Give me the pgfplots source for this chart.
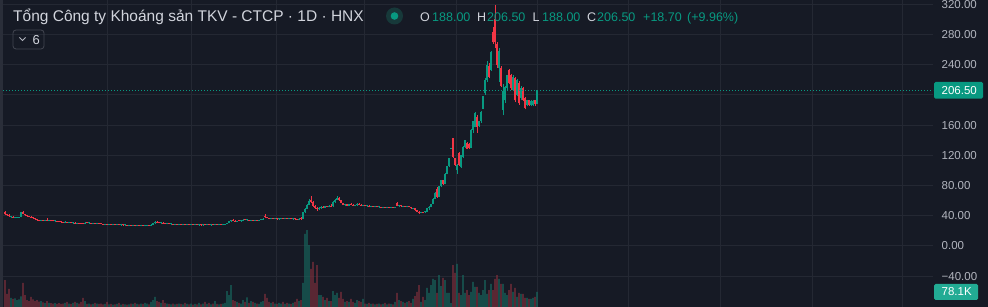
\documentclass[border=0pt]{standalone}
\usepackage{pgfplots}
\pgfplotsset{compat=1.18}
\usepackage{pgfplotstable}
\usepackage{fontspec}
\setmainfont{Liberation Sans}
\definecolor{bg}{HTML}{161A25}
\definecolor{side}{HTML}{2A2E39}
\definecolor{gridc}{HTML}{242833}
\definecolor{tickc}{HTML}{B2B5BE}
\definecolor{titlec}{HTML}{D1D4DC}
\definecolor{upc}{HTML}{089981}
\definecolor{dnc}{HTML}{F23645}
\definecolor{volup}{HTML}{17665D}
\definecolor{voldn}{HTML}{7E2F3B}
\definecolor{badgeb}{HTML}{22AB94}
\definecolor{ring}{HTML}{17393A}
\definecolor{boxc}{HTML}{434651}

\pgfplotstableread{
x o h l c v
5 44.5 46.0 41.0 42.0 140
7 42.0 43.0 40.0 40.5 68
9 41.0 42.0 39.0 39.5 94
11 38.5 40.0 37.5 39.5 47
13 39.0 39.5 37.0 37.5 42
15 37.0 38.5 36.5 38.0 45
17 37.5 38.5 37.0 38.2 36
19 38.0 39.0 37.5 38.5 40
21 38.5 45.0 38.0 44.5 55
23 45.0 46.0 42.0 42.5 125
25 42.5 43.0 40.0 40.5 62
27 40.5 41.0 39.0 39.2 36
29 39.5 40.0 38.5 39.0 30
31 39.0 39.5 37.5 37.8 52
33 37.8 38.2 36.0 36.5 40
35 36.5 37.0 35.0 35.5 30
37 35.5 36.0 33.5 34.0 36
39 34.0 34.5 33.0 33.5 28
41 33.5 34.8 33.0 34.5 30
43 34.5 35.0 33.2 33.5 24
45 33.5 34.0 32.8 33.8 20
47 34.0 37.0 33.0 33.2 30
49 33.2 34.0 32.5 33.5 22
51 33.5 34.0 32.8 33.0 20
53 33.0 33.8 32.5 32.8 18
55 32.8 33.5 32.0 33.2 20
57 33.2 33.5 32.2 32.5 16
59 32.5 33.0 31.8 32.0 20
61 32.0 32.5 31.0 31.5 16
63 31.5 32.0 30.8 31.2 18
65 31.2 32.5 30.8 31.8 21
67 31.8 32.0 30.5 30.8 26
69 30.8 31.5 30.2 31.2 18
71 31.2 31.5 30.5 30.6 16
73 30.6 31.0 30.0 30.8 21
75 30.8 31.2 29.5 29.8 26
77 29.8 31.0 29.5 30.8 21
79 30.8 31.0 29.8 30.0 18
81 30.0 30.5 29.2 29.5 26
83 30.5 30.8 29.0 29.2 47
85 29.2 31.5 29.0 31.0 31
87 31.0 31.2 30.0 30.2 16
89 30.2 30.8 29.8 30.5 18
91 30.5 30.8 29.8 30.0 14
93 30.0 30.5 29.5 30.2 16
95 30.2 30.5 29.5 29.6 21
97 29.6 30.0 29.0 29.8 18
99 29.8 30.0 29.0 29.2 16
101 29.2 29.8 28.5 29.0 18
103 29.0 29.5 28.2 28.5 14
105 28.5 29.2 28.0 29.0 16
107 29.0 29.2 28.2 28.4 26
109 28.4 29.0 28.0 28.8 14
111 28.8 29.0 28.0 28.2 16
113 28.2 28.8 27.8 28.5 12
115 28.5 28.8 27.8 28.0 14
117 28.0 28.5 27.5 28.2 16
119 28.2 28.5 27.6 27.8 21
121 27.8 28.2 27.2 28.0 12
123 28.0 28.3 27.3 27.5 16
125 27.5 28.0 27.0 27.8 14
127 27.8 28.0 27.2 27.4 12
129 27.4 27.8 26.8 27.6 14
131 27.6 27.8 27.0 27.2 18
133 27.2 27.6 26.5 27.4 16
135 27.4 27.6 26.0 26.8 21
137 26.8 27.5 26.5 27.2 16
139 27.2 27.4 26.5 26.8 14
141 26.8 27.3 26.2 27.0 18
143 27.0 27.3 26.3 26.6 16
145 26.6 27.2 26.0 27.0 21
147 27.0 27.5 26.5 27.3 18
149 27.3 27.6 26.8 27.0 14
151 27.0 28.5 26.8 28.2 26
153 28.2 30.0 28.0 29.8 36
155 29.8 32.5 29.5 32.0 52
157 32.0 32.5 30.5 31.0 31
159 31.0 31.5 30.0 30.2 26
161 30.2 31.0 29.5 30.8 21
163 30.8 31.2 29.5 29.8 36
165 29.8 30.2 29.0 29.2 21
167 29.2 29.8 28.5 29.5 18
169 29.5 29.8 28.5 28.8 16
171 28.8 29.5 28.5 29.2 14
173 29.2 29.5 28.5 28.7 18
175 28.7 29.2 28.2 29.0 14
177 29.0 29.3 28.3 28.5 16
179 28.5 29.0 28.0 28.8 18
181 28.8 29.0 28.0 28.2 16
183 28.2 28.8 27.8 28.6 14
185 28.6 28.8 27.8 28.0 21
187 28.0 28.5 27.5 28.3 16
189 28.3 28.6 27.6 27.8 14
191 27.8 28.5 27.5 28.4 18
193 28.4 28.6 27.8 28.0 12
195 28.0 28.5 27.6 28.2 16
197 28.2 28.5 27.5 27.8 14
199 27.8 28.2 27.2 28.0 21
201 28.0 28.4 27.5 27.8 14
203 27.8 28.4 27.4 28.2 18
205 28.2 29.5 28.0 28.0 26
207 28.0 28.5 27.5 28.3 16
209 28.3 28.6 27.6 27.9 21
211 27.9 28.4 27.5 28.2 14
213 28.2 28.5 27.6 27.8 18
215 27.8 28.8 27.5 28.5 31
217 28.5 28.8 27.8 28.0 16
219 28.0 28.5 27.6 28.3 14
221 28.3 28.6 27.5 27.8 16
223 27.8 28.5 27.5 28.2 18
225 28.2 29.0 27.8 28.8 21
227 28.8 31.0 28.5 30.5 83
229 30.5 33.0 30.0 32.5 62
231 32.5 35.0 32.0 34.5 114
233 34.5 35.5 33.0 33.5 36
235 33.5 34.0 32.0 32.5 31
237 32.5 33.5 32.0 33.2 26
239 33.2 34.0 32.5 33.0 21
241 33.0 33.8 32.2 33.5 18
243 33.5 35.5 33.0 35.0 36
245 35.0 35.5 34.0 34.2 26
247 34.2 34.8 33.5 34.5 50
249 34.5 35.0 33.5 33.8 21
251 33.8 34.5 33.2 34.2 31
253 34.2 34.5 33.0 33.5 26
255 33.5 34.2 33.0 34.0 21
257 34.0 34.5 33.2 33.6 18
259 33.6 34.3 33.0 34.1 16
261 34.1 36.0 33.8 35.5 26
263 35.0 36.5 34.5 36.2 31
265 40.0 43.0 37.5 38.0 68
267 38.0 38.5 36.5 37.0 47
269 37.0 37.5 35.8 36.2 26
271 36.2 36.8 35.5 36.5 21
273 36.5 37.0 35.5 35.8 26
275 35.8 36.5 35.2 36.2 18
277 36.2 36.5 35.0 35.5 16
279 35.5 36.0 34.8 35.8 21
281 35.8 37.0 35.5 36.8 18
283 36.8 37.0 35.8 36.0 26
285 36.0 36.8 35.5 36.5 16
287 36.5 36.8 35.6 35.8 21
289 35.8 36.5 35.3 36.2 18
291 36.2 36.5 35.5 35.7 16
293 35.7 36.2 35.0 36.0 21
295 36.0 36.3 35.2 35.5 26
297 35.5 36.0 34.5 35.0 42
299 35.0 36.5 34.5 36.3 31
301 36.3 38.0 35.0 35.5 36
303 36.0 45.0 35.5 44.5 125
305 44.5 50.0 44.0 49.5 380
307 49.5 55.0 49.0 54.5 400
309 54.5 62.0 54.0 60.0 322
311 61.0 66.0 57.0 58.0 198
313 58.0 59.0 52.0 53.0 234
315 53.0 54.0 49.0 50.0 125
317 50.0 51.5 47.0 48.5 218
319 48.5 51.0 47.5 50.5 62
321 50.5 52.5 49.5 52.0 62
323 52.0 53.0 49.8 50.5 52
325 50.5 53.5 50.0 53.0 36
327 53.0 53.5 51.0 51.5 47
329 51.5 54.0 51.0 53.5 31
331 53.5 55.0 52.0 52.5 31
333 52.5 59.0 52.0 58.5 83
335 58.5 62.0 57.5 61.5 62
337 61.5 66.0 61.0 64.0 73
339 64.0 65.0 60.0 60.5 47
341 60.5 61.0 56.5 57.0 78
343 57.0 57.5 54.0 54.5 42
345 54.5 56.0 53.5 55.5 26
347 55.5 56.0 53.0 53.5 31
349 53.5 55.5 53.0 55.0 26
351 55.0 56.5 54.2 54.5 42
353 54.5 55.0 52.8 53.0 26
355 53.0 54.5 52.5 54.0 21
357 54.0 56.5 53.5 56.0 36
359 56.0 56.5 54.0 54.5 31
361 54.5 55.0 53.0 53.5 26
363 53.5 54.2 52.5 53.8 42
365 53.8 54.0 52.5 53.0 18
367 53.0 53.8 52.2 53.5 16
369 53.5 53.8 52.0 52.3 21
371 52.3 53.0 51.5 52.8 16
373 52.8 53.2 51.5 51.8 18
375 51.8 52.5 51.0 52.2 14
377 52.2 52.5 51.0 51.3 16
379 51.3 52.0 50.5 51.8 18
381 51.8 52.2 50.8 51.2 14
383 51.2 51.8 50.5 51.5 16
385 51.5 51.8 50.5 50.8 21
387 50.8 51.5 50.2 51.2 14
389 51.2 51.5 50.3 50.6 18
391 50.6 51.2 50.0 51.0 16
393 51.0 51.3 50.0 50.4 14
395 50.4 52.0 50.0 51.8 26
397 57.5 58.5 52.5 53.0 73
399 53.0 54.5 52.0 54.0 36
401 54.0 54.5 52.0 52.5 31
403 52.5 53.5 51.5 53.0 26
405 53.0 53.2 51.5 51.8 21
407 51.8 52.8 51.0 52.5 26
409 52.5 52.8 51.0 51.2 31
411 51.2 51.5 49.5 49.8 21
413 49.8 50.5 48.5 50.0 42
415 50.0 50.5 47.0 47.5 57
417 47.5 48.0 45.0 45.5 78
419 45.5 46.0 43.0 44.0 114
421 44.0 45.5 43.5 45.0 26
423 45.0 45.5 44.0 44.5 52
425 44.5 46.5 44.0 46.0 36
427 45.5 50.5 45.0 50.0 99
429 50.0 52.5 48.0 51.5 73
431 51.5 56.0 51.0 55.5 114
433 55.5 63.0 55.0 62.5 146
435 62.5 71.0 62.0 70.0 140
437 76.0 78.0 64.0 65.0 73
439 65.0 80.0 64.5 79.0 166
441 79.0 88.0 78.0 87.0 109
443 87.0 88.0 81.0 82.0 151
445 82.0 97.0 81.5 96.0 140
447 96.0 106.5 95.0 106.0 73
449 106.0 117.0 105.0 116.0 73
451 129.0 129.5 128.5 129.0 20
453 142.6 143.5 117.0 118.0 218
455 116.0 117.0 106.0 107.0 177
457 100.0 108.0 96.0 107.0 224
459 123.0 124.0 106.0 107.5 73
461 104.0 121.0 103.0 120.0 62
463 118.0 132.0 117.0 131.0 166
465 131.0 141.0 130.0 140.0 73
467 137.0 138.0 128.0 129.0 88
469 135.0 136.5 129.0 130.0 62
471 130.0 155.0 129.5 154.0 78
473 154.0 166.0 150.0 165.0 130
475 158.0 177.0 157.0 176.0 104
477 171.0 173.0 150.0 158.0 104
479 159.0 166.0 157.0 165.0 73
481 165.0 179.0 163.0 178.0 62
483 182.0 199.0 181.0 198.0 88
485 202.0 222.0 200.0 220.0 140
487 220.0 245.0 217.0 240.0 68
489 238.0 242.0 222.0 224.0 88
491 233.0 258.0 232.0 257.0 120
493 283.0 290.0 268.0 270.0 88
495 300.0 319.0 262.0 270.0 146
497 268.0 270.0 236.0 240.0 166
499 236.0 262.0 217.0 258.0 146
501 236.0 238.0 210.0 212.0 120
503 180.0 215.0 173.0 205.0 120
505 193.0 212.0 190.0 211.0 73
507 209.0 227.0 207.0 226.0 62
509 233.0 235.0 214.0 216.0 88
511 226.0 228.0 207.0 209.0 120
513 207.0 226.0 205.0 224.0 78
515 222.0 224.0 191.0 193.0 99
517 200.0 221.0 198.0 220.0 52
519 216.0 218.0 187.0 189.0 73
521 196.0 212.0 194.0 209.0 68
523 209.0 210.0 192.0 193.0 68
525 196.0 197.0 181.0 183.0 47
527 187.0 194.0 185.0 193.0 47
529 193.0 194.0 186.0 187.0 42
531 187.0 193.0 186.0 192.0 42
533 187.0 193.0 186.0 192.0 47
535 193.0 194.0 185.0 187.8 52
537 188.0 206.5 188.0 206.5 78.1
}\prices

\pgfplotsset{
  base/.style={at={(0,0)}, anchor=south west, scale only axis,
    width=933pt, height=307pt, xmin=0, xmax=933},
}

\begin{document}
\begin{tikzpicture}[x=1pt,y=1pt]
\useasboundingbox (0,0) rectangle (988,307);
\clip (0,0) rectangle (988,307);
\fill[bg] (0,0) rectangle (988,307);

% grid + price labels
\begin{axis}[base, ymin=-80.8, ymax=325.8,
  axis line style={draw=none}, tick style={draw=none}, major tick length=0pt,
  xtick={107,191,276,364,456,537,628,720,812,902}, xticklabels={},
  ytick={-40,0,40,80,120,160,200,240,280,320},
  yticklabels={−40.00,0.00,40.00,80.00,120.00,160.00,,240.00,280.00,320.00},
  yticklabel pos=right,
  yticklabel style={anchor=west, inner sep=0pt, xshift=8.5pt,
    font=\fontsize{11.5}{13}\selectfont, text=tickc},
  grid=major, major grid style={draw=gridc, line width=1pt},
]
\addplot[draw=none] coordinates {(0,0) (933,0)};
\end{axis}

% volume
\begin{axis}[base, ymin=0, ymax=1596, hide axis]
\addplot[ybar, bar width=1.4, bar shift=0pt, fill=volup, draw=none]
  table[x=x, y expr={\thisrow{c}>=\thisrow{o} ? \thisrow{v} : nan}] {\prices};
\addplot[ybar, bar width=1.4, bar shift=0pt, fill=voldn, draw=none]
  table[x=x, y expr={\thisrow{c}>=\thisrow{o} ? nan : \thisrow{v}}] {\prices};
\end{axis}

% candles
\begin{axis}[base, ymin=-80.8, ymax=325.8, hide axis]
\addplot[draw=none, mark=none, error bars/.cd, y dir=plus, y explicit, error mark=none,
    error bar style={draw=upc, solid, line width=0.8pt}]
  table[x=x, y expr={\thisrow{c}>=\thisrow{o} ? \thisrow{l} : nan},
        y error expr={\thisrow{h}-\thisrow{l}}] {\prices};
\addplot[draw=none, mark=none, error bars/.cd, y dir=plus, y explicit, error mark=none,
    error bar style={draw=dnc, solid, line width=0.8pt}]
  table[x=x, y expr={\thisrow{c}>=\thisrow{o} ? nan : \thisrow{l}},
        y error expr={\thisrow{h}-\thisrow{l}}] {\prices};
\addplot[draw=none, mark=none, error bars/.cd, y dir=plus, y explicit, error mark=none,
    error bar style={draw=upc, solid, line width=1.4pt}]
  table[x=x, y expr={\thisrow{c}>=\thisrow{o} ? \thisrow{o} : nan},
        y error expr={max(\thisrow{c}-\thisrow{o},1.0)}] {\prices};
\addplot[draw=none, mark=none, error bars/.cd, y dir=plus, y explicit, error mark=none,
    error bar style={draw=dnc, solid, line width=1.4pt}]
  table[x=x, y expr={\thisrow{c}>=\thisrow{o} ? nan : \thisrow{c}},
        y error expr={max(\thisrow{o}-\thisrow{c},1.0)}] {\prices};
\addplot[upc, line width=1pt, dash pattern=on 1pt off 2pt] coordinates {(0,206.5) (933,206.5)};
\end{axis}

\fill[side] (0,0) rectangle (3,307);

% header
\node[anchor=base west, inner sep=0pt, text=titlec, font=\fontsize{15.5}{18}\selectfont]
  at (13,285) {Tổng Công ty Khoáng sản TKV - CTCP · 1D · HNX};
\fill[ring] (394.5,291) circle (8.5);
\fill[upc] (394.5,291) circle (3.8);
\begin{scope}[every node/.style={anchor=base west, inner sep=0pt, font=\fontsize{12.5}{15}\selectfont}]
\node[text=titlec] at (420,285.6) {O};
\node[text=upc] at (432,285.6) {188.00};
\node[text=titlec] at (477,285.6) {H};
\node[text=upc] at (487,285.6) {206.50};
\node[text=titlec] at (532.5,285.6) {L};
\node[text=upc] at (542,285.6) {188.00};
\node[text=titlec] at (587,285.6) {C};
\node[text=upc] at (597,285.6) {206.50};
\node[text=upc] at (643,285.6) {+18.70};
\node[text=upc] at (687,285.6) {(+9.96\%)};
\end{scope}
\draw[boxc, line width=0.8pt, rounded corners=3pt] (13,258) rectangle (44,277);
\draw[tickc, line width=1pt] (19.5,269.5) -- (22.5,266.5) -- (25.5,269.5);
\node[anchor=base west, inner sep=0pt, text=titlec, font=\fontsize{13}{15}\selectfont] at (32.5,262.5) {6};

% badges
\fill[upc, rounded corners=1.5pt] (934,208.3) rectangle (983,225);
\node[anchor=west, inner sep=0pt, text=white, font=\fontsize{11.5}{13}\selectfont] at (941.5,216.7) {206.50};
\fill[badgeb, rounded corners=1.5pt] (934,7) rectangle (978,23);
\node[anchor=west, inner sep=0pt, text=white, font=\fontsize{11.5}{13}\selectfont] at (941.5,15) {78.1K};
\end{tikzpicture}
\end{document}
